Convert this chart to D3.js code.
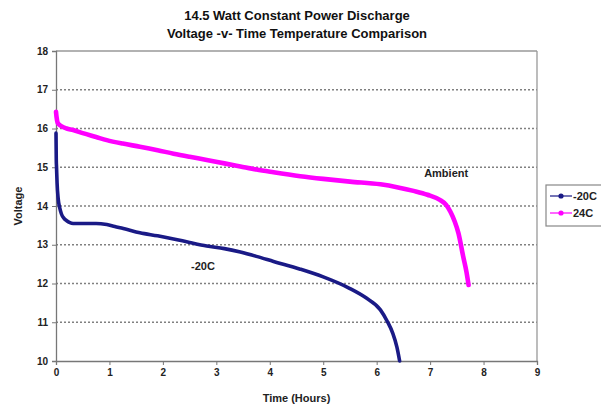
<!DOCTYPE html>
<html><head><meta charset="utf-8">
<script src="https://cdn.jsdelivr.net/npm/d3@7"></script>
<style>
body{margin:0;background:#fff;}
text{font-family:"Liberation Sans",Arial,sans-serif;}
</style></head>
<body><svg id="c" width="601" height="411"></svg>
<script>
const titleLines = ["14.5 Watt Constant Power Discharge", "Voltage -v- Time Temperature Comparison"];
const xTicks = [0,1,2,3,4,5,6,7,8,9];
const yTicks = [10,11,12,13,14,15,16,17,18];
const seriesNames = ["-20C", "24C"];
const timeM20 = [0, 0.005, 0.01, 0.02, 0.04, 0.07, 0.1, 0.15, 0.2, 0.26, 0.32, 0.5, 0.75, 0.95, 1.1, 1.26, 1.57, 1.9, 2.2, 2.5, 2.82, 3.15, 3.45, 3.75, 4.07, 4.57, 5.0, 5.5, 5.8, 6.07, 6.2, 6.3, 6.38, 6.43];
const voltM20 = [15.88, 15.2, 15.0, 14.6, 14.2, 13.95, 13.8, 13.68, 13.62, 13.57, 13.55, 13.55, 13.55, 13.52, 13.47, 13.42, 13.31, 13.23, 13.15, 13.06, 12.97, 12.9, 12.81, 12.7, 12.57, 12.37, 12.17, 11.87, 11.63, 11.32, 11.02, 10.72, 10.35, 10.0];
const time24 = [0, 0.01, 0.03, 0.06, 0.1, 0.2, 0.32, 0.5, 0.75, 0.95, 1.25, 1.57, 1.9, 2.2, 2.5, 2.82, 3.15, 3.45, 3.75, 4.07, 4.57, 5.0, 5.5, 6.07, 6.4, 6.69, 6.95, 7.19, 7.3, 7.38, 7.46, 7.53, 7.62, 7.68, 7.72];
const volt24 = [16.43, 16.3, 16.15, 16.1, 16.06, 16.0, 15.96, 15.88, 15.78, 15.70, 15.61, 15.53, 15.44, 15.35, 15.27, 15.19, 15.10, 15.02, 14.94, 14.87, 14.77, 14.70, 14.63, 14.56, 14.48, 14.39, 14.29, 14.15, 14.03, 13.85, 13.6, 13.30, 12.69, 12.3, 11.96];
const annotations = [{text:"Ambient", t:7.3, v:14.75}, {text:"-20C", t:2.75, v:12.35}];

const colors = ["#1a1a86", "#ff00ff"];
const svg = d3.select("#c");
const L = 56, R = 537, T = 51, B = 361;
const x = d3.scaleLinear().domain([0,9]).range([L,R]);
const y = d3.scaleLinear().domain([10,18]).range([B,T]);

svg.selectAll(".title").data(titleLines).enter().append("text")
  .attr("x", 297).attr("y", (d,i)=>20 + i*18).attr("text-anchor","middle")
  .attr("font-size", 13).attr("font-weight","bold").attr("fill","#111").text(d=>d);

svg.append("g").selectAll("line").data(yTicks.filter(v=>v>10 && v<18)).enter().append("line")
  .attr("x1", L).attr("x2", R).attr("y1", d=>y(d)).attr("y2", d=>y(d))
  .attr("stroke","#808080").attr("stroke-width",1.3).attr("stroke-dasharray","2,2");
svg.append("line").attr("x1",L).attr("x2",R).attr("y1",y(18)).attr("y2",y(18)).attr("stroke","#999").attr("stroke-width",1.3);
svg.append("line").attr("x1",R).attr("x2",R).attr("y1",T).attr("y2",B).attr("stroke","#999").attr("stroke-width",1.3);

const yAxis = svg.append("g").attr("transform",`translate(${L},0)`)
  .call(d3.axisLeft(y).tickValues(yTicks).tickSize(4).tickFormat(d3.format("d")));
const xAxis = svg.append("g").attr("transform",`translate(0,${B})`)
  .call(d3.axisBottom(x).tickValues(xTicks).tickSize(4).tickFormat(d3.format("d")));
[yAxis, xAxis].forEach(g=>{
  g.select(".domain").attr("stroke","#777").attr("stroke-width",1.3);
  g.selectAll(".tick line").attr("stroke","#777");
  g.selectAll(".tick text").attr("font-size",10).attr("font-weight","bold").attr("fill","#222")
   .attr("font-family","\"Liberation Sans\",Arial,sans-serif");
});
yAxis.selectAll(".tick text").attr("x",-8);
xAxis.selectAll(".tick text").attr("y",8);

svg.append("text").attr("transform",`translate(22,${(T+B)/2}) rotate(-90)`).attr("text-anchor","middle")
  .attr("font-size",11).attr("font-weight","bold").attr("fill","#222").text("Voltage");
svg.append("text").attr("x",(L+R)/2).attr("y",402).attr("text-anchor","middle")
  .attr("font-size",11).attr("font-weight","bold").attr("fill","#222").text("Time (Hours)");

const series = [d3.zip(timeM20, voltM20), d3.zip(time24, volt24)];
const line = d3.line().x(d=>x(d[0])).y(d=>y(d[1])).curve(d3.curveMonotoneX);
series.forEach((s,i)=>{
  svg.append("path").datum(s).attr("d",line).attr("fill","none")
    .attr("stroke",colors[i]).attr("stroke-width", i===0?3.6:4.6)
    .attr("stroke-linejoin","round").attr("stroke-linecap","round");
});

svg.selectAll(".ann").data(annotations).enter().append("text")
  .attr("x",d=>x(d.t)).attr("y",d=>y(d.v)).attr("text-anchor","middle")
  .attr("font-size",11).attr("font-weight","bold").attr("fill","#222").text(d=>d.text);

const lg = svg.append("g");
lg.append("rect").attr("x",546).attr("y",185).attr("width",70).attr("height",41)
  .attr("fill","#fff").attr("stroke","#888").attr("stroke-width",1.2);
seriesNames.forEach((n,i)=>{
  const yy = 196 + i*17;
  lg.append("line").attr("x1",550).attr("x2",572).attr("y1",yy).attr("y2",yy).attr("stroke",colors[i]).attr("stroke-width",1.2);
  lg.append("circle").attr("cx",561).attr("cy",yy).attr("r",2.6).attr("fill",colors[i]);
  lg.append("text").attr("x",573).attr("y",yy+4).attr("font-size",11).attr("font-weight","bold").attr("fill","#222").text(n);
});
</script></body></html>
